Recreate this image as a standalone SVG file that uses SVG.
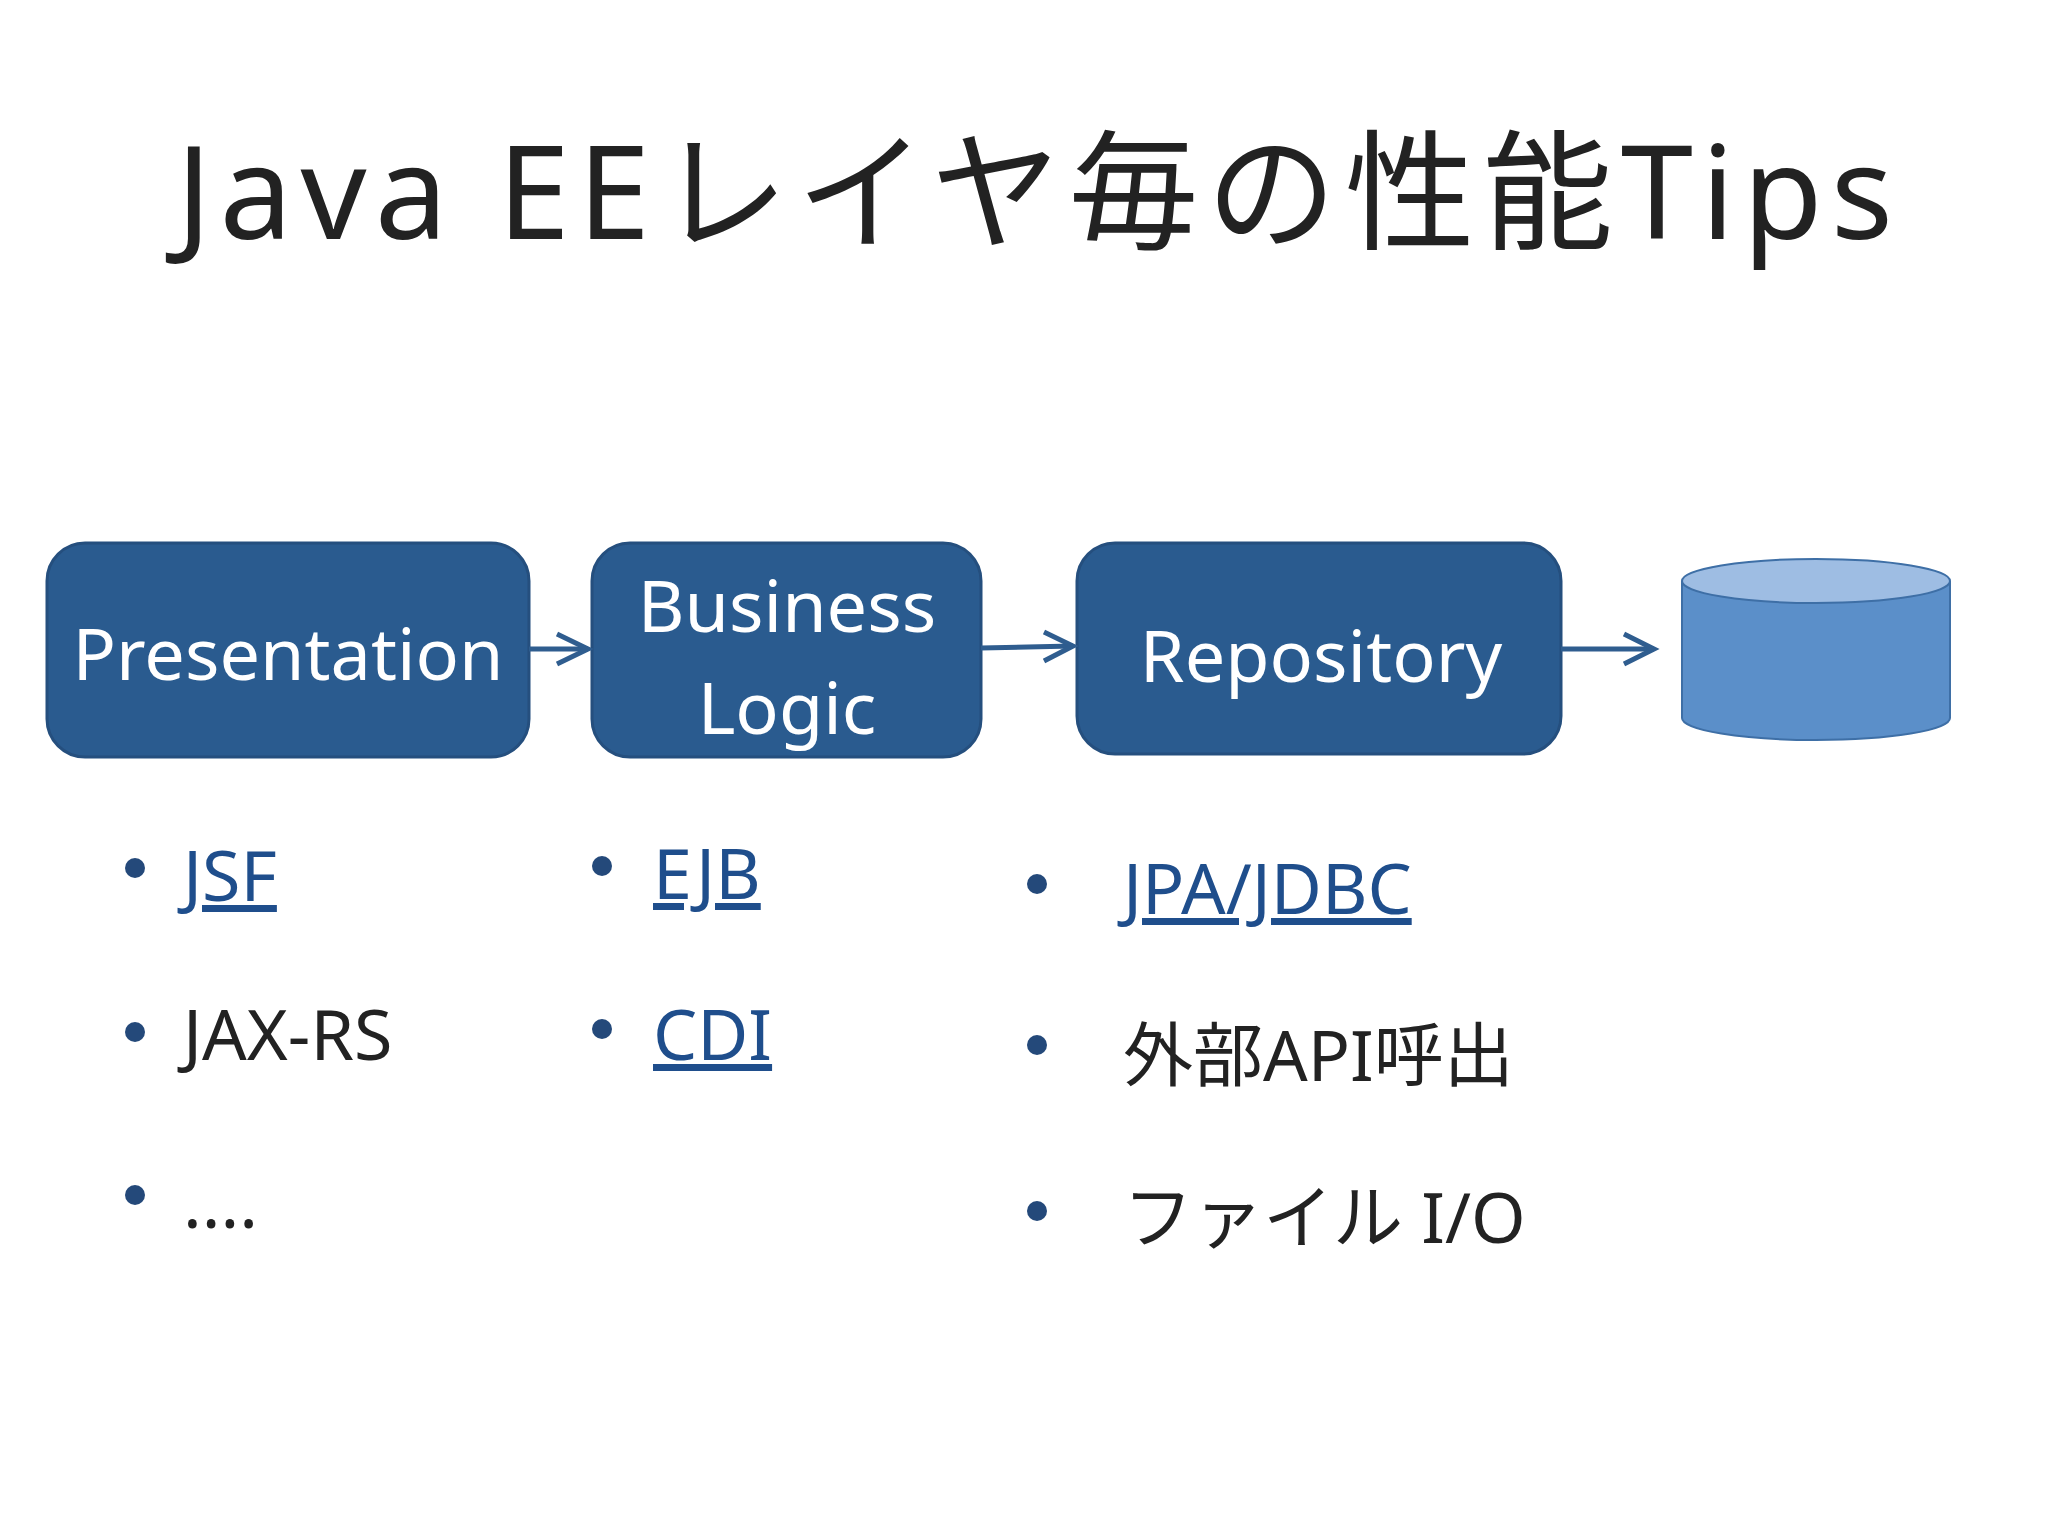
<svg xmlns="http://www.w3.org/2000/svg" width="2048" height="1536" viewBox="0 0 2048 1536">
<style>
text{font-family:"Noto Sans","Noto Sans CJK JP",sans-serif}
.box{fill:#2a5b8f;stroke:#254f7e;stroke-width:3}
.bt{fill:#fff;font-size:72px;text-anchor:middle}
.li{font-size:70px;fill:#222}
.lk{font-size:70px;fill:#1f4e8c;text-decoration:underline}
.dot{fill:#24497a}
.con{stroke:#2f5d8f;stroke-width:5;fill:none}
</style>
<defs><marker id="ah" markerWidth="12" markerHeight="12" refX="10" refY="6" orient="auto" markerUnits="userSpaceOnUse" viewBox="0 0 12 12"><path d="M0,0 L10,6 L0,12" fill="none" stroke="#2f5d8f" stroke-width="2"/></marker></defs>
<rect width="2048" height="1536" fill="#fff"/>
<text x="176" y="239" font-size="130" fill="#222" textLength="1717">Java EEレイヤ毎の性能Tips</text>
<g id="presentation"><rect class="box" x="47" y="543" width="482" height="214" rx="38"/><text class="bt" x="288" y="680">Presentation</text></g>
<g id="business"><rect class="box" x="592" y="543" width="389" height="214" rx="38"/><text class="bt" x="787" y="632">Business</text><text class="bt" x="787" y="734">Logic</text></g>
<g id="repository"><rect class="box" x="1077" y="543" width="484" height="211" rx="38"/><text class="bt" x="1321" y="682">Repository</text></g>
<g id="db"><path d="M1682,581 V718 A134,22 0 0 0 1950,718 V581" fill="#5b8fc9" stroke="#3e6fa6" stroke-width="2"/><ellipse cx="1816" cy="581" rx="134" ry="22" fill="#9ebde3" stroke="#3e6fa6" stroke-width="2"/></g>
<g id="connectors">
<line class="con" x1="529" y1="649" x2="588" y2="649" marker-end="url(#ah)"/>
<line class="con" x1="981" y1="648" x2="1073" y2="646" marker-end="url(#ah)"/>
<line class="con" x1="1561" y1="649" x2="1654" y2="649" marker-end="url(#ah)"/>
<path d="M557,634 L588,649 L557,664 M1044,632 L1073,646 L1044,661 M1624,634 L1654,649 L1624,664" class="con"/>
</g>
<g id="lists">
<circle class="dot" cx="135" cy="868" r="10"/><circle class="dot" cx="135" cy="1032" r="10"/><circle class="dot" cx="135" cy="1195" r="10"/>
<text class="lk" x="183" y="901">JSF</text><text class="li" x="183" y="1060">JAX-RS</text><text class="li" x="183" y="1228">....</text>
<circle class="dot" cx="602" cy="866" r="10"/><circle class="dot" cx="602" cy="1029" r="10"/>
<text class="lk" x="653" y="899">EJB</text><text class="lk" x="653" y="1060">CDI</text>
<circle class="dot" cx="1037" cy="884" r="10"/><circle class="dot" cx="1037" cy="1045" r="10"/><circle class="dot" cx="1037" cy="1211" r="10"/>
<text class="lk" x="1123" y="914">JPA/JDBC</text><text class="li" x="1123" y="1081">外部API呼出</text><text class="li" x="1123" y="1243">ファイル I/O</text>
</g>
</svg>
